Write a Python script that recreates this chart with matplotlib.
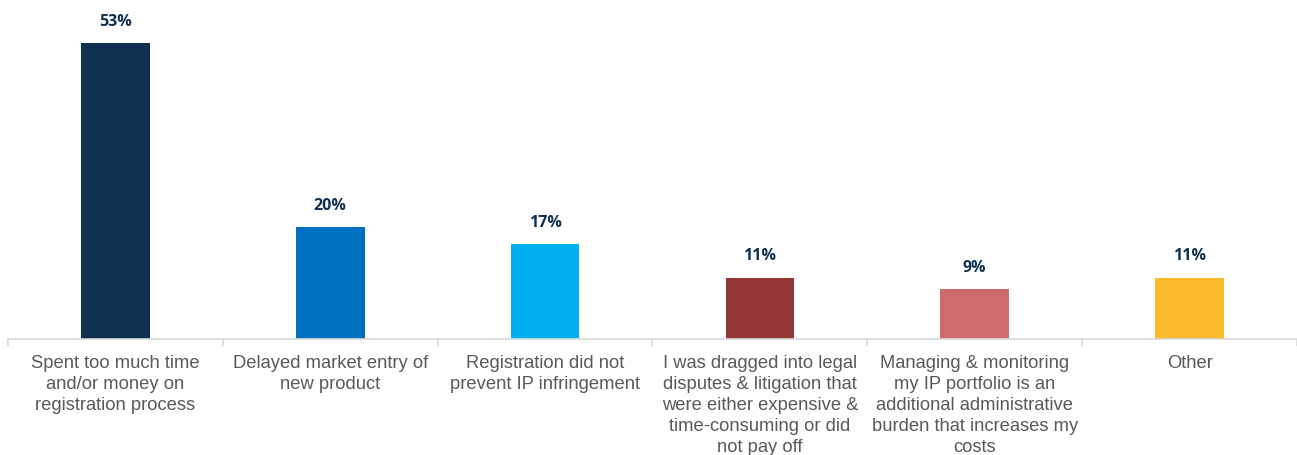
import matplotlib.pyplot as plt
import numpy as np

categories = [
    "Spent too much time\nand/or money on\nregistration process",
    "Delayed market entry of\nnew product",
    "Registration did not\nprevent IP infringement",
    "I was dragged into legal\ndisputes & litigation that\nwere either expensive &\ntime-consuming or did\nnot pay off",
    "Managing & monitoring\nmy IP portfolio is an\nadditional administrative\nburden that increases my\ncosts",
    "Other",
]
values = [53, 20, 17, 11, 9, 11]
colors = ["#10304F", "#0070C0", "#00B0F0", "#943634", "#CD6B6A", "#FBBA2C"]

fig = plt.figure(figsize=(12.97, 4.56), dpi=100)
ax = fig.add_axes([8 / 1297, 116 / 456, 1289 / 1297, 335 / 456])

x = np.arange(len(values))
bars = ax.bar(x, values, width=0.32, color=colors, zorder=2)

for xi, v in zip(x, values):
    ax.annotate(f"{v}%", (xi, v), xytext=(0, 16), textcoords="offset points",
                ha="center", va="center", fontsize=11.5, fontweight="bold",
                color="#10304F", family="Open Sans")

ax.set_xlim(-0.5, len(values) - 0.5)
ax.set_ylim(0, 60)
ax.set_xticks(x)
ax.set_xticklabels(categories, fontsize=13.2, color="#595959", family="Liberation Sans",
                   linespacing=1.3)
ax.tick_params(axis="x", which="major", length=0, pad=11)
ax.set_xticks(np.arange(-0.5, len(values)), minor=True)
ax.tick_params(axis="x", which="minor", length=5, color="#D9D9D9", width=1.2)
ax.set_yticks([])

for s in ["top", "right", "left"]:
    ax.spines[s].set_visible(False)
ax.spines["bottom"].set_color("#D9D9D9")
ax.spines["bottom"].set_linewidth(1.2)

fig.savefig("out.png", dpi=100)
